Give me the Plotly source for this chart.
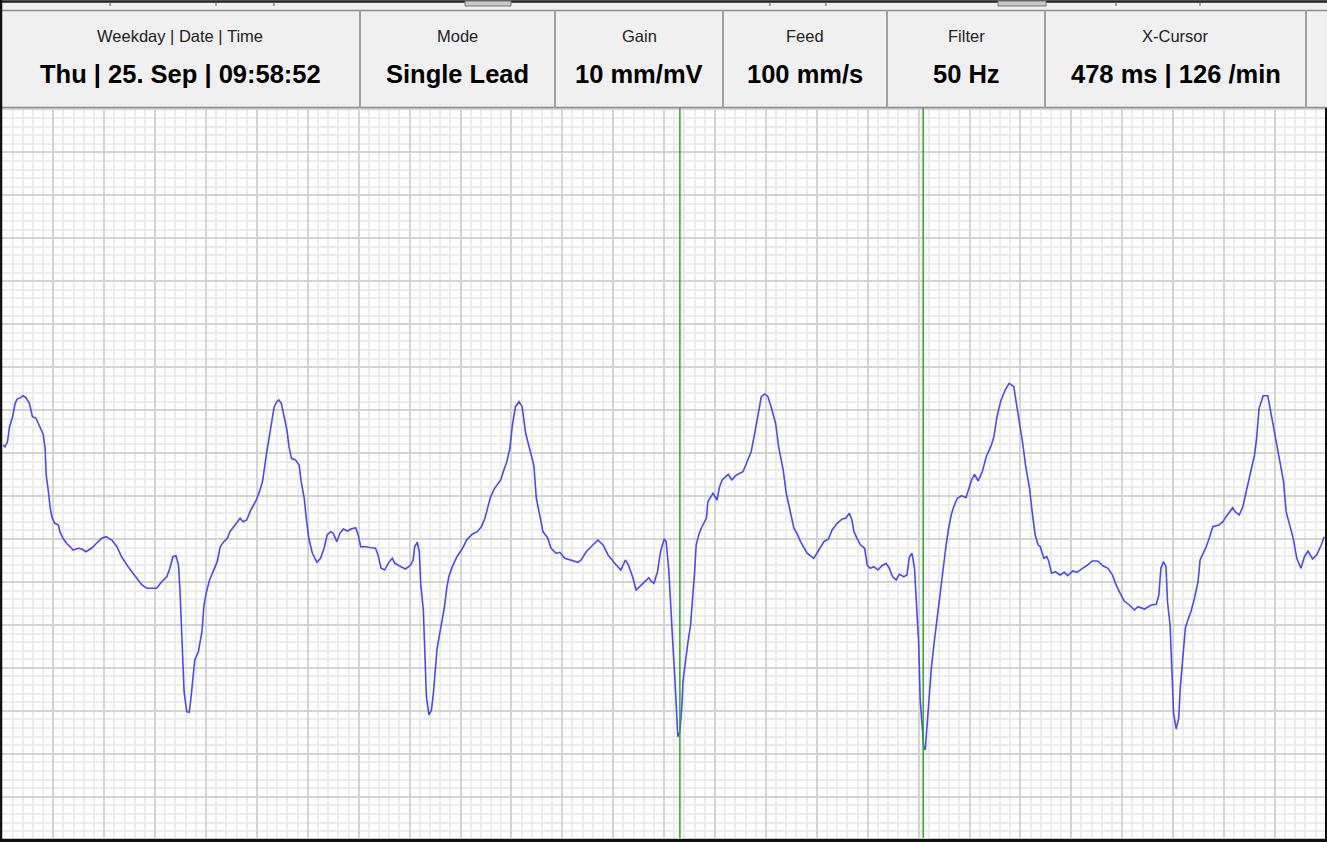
import plotly.graph_objects as go

# ECG samples (time in ms, amplitude in mV)
t_ms = [1, 5, 10, 14, 20, 25, 29, 36, 41, 46, 53, 59, 66, 73, 80, 84, 86, 90, 94, 98,
        103, 110, 113, 119, 126, 133, 139, 149, 156, 164, 175, 185, 195, 204, 215, 225, 234, 247, 261, 274,
        284, 303, 313, 323, 329, 335, 341, 346, 349, 352, 355, 357, 362, 367, 370, 374, 378, 385, 392, 396,
        401, 407, 414, 422, 428, 435, 442, 447, 457, 467, 473, 480, 488, 498, 505, 511, 519, 524, 528, 534,
        539, 543, 548, 553, 559, 563, 568, 576, 583, 587, 593, 597, 602, 609, 618, 625, 632, 638, 645, 650,
        657, 663, 670, 678, 685, 694, 699, 704, 714, 724, 733, 738, 744, 751, 758, 766, 771, 783, 792, 802,
        807, 810, 815, 819, 822, 827, 830, 833, 838, 843, 847, 851, 854, 861, 868, 873, 877, 884, 893, 904,
        912, 923, 933, 941, 948, 953, 959, 967, 979, 984, 991, 997, 1002, 1008, 1015, 1021, 1028, 1033, 1039, 1044,
        1049, 1056, 1062, 1071, 1078, 1088, 1095, 1105, 1118, 1131, 1137, 1147, 1160, 1170, 1180, 1190, 1203, 1215, 1224, 1230,
        1239, 1245, 1252, 1261, 1270, 1274, 1280, 1287, 1293, 1300, 1304, 1309, 1314, 1318, 1321, 1324, 1327, 1331, 1335, 1337,
        1342, 1347, 1352, 1357, 1360, 1363, 1368, 1373, 1383, 1386, 1393, 1396, 1404, 1409, 1414, 1426, 1433, 1442, 1455, 1462,
        1471, 1478, 1485, 1491, 1498, 1504, 1511, 1519, 1525, 1534, 1540, 1549, 1555, 1561, 1568, 1581, 1594, 1604, 1614, 1623,
        1630, 1640, 1650, 1657, 1664, 1669, 1673, 1679, 1686, 1694, 1699, 1705, 1712, 1720, 1728, 1736, 1742, 1749, 1756, 1762,
        1771, 1777, 1782, 1787, 1792, 1797, 1800, 1803, 1807, 1810, 1813, 1817, 1821, 1825, 1830, 1834, 1840, 1845, 1849, 1854,
        1859, 1864, 1869, 1876, 1885, 1893, 1899, 1904, 1910, 1917, 1925, 1933, 1943, 1948, 1954, 1961, 1970, 1978, 1987, 1993,
        2000, 2005, 2010, 2018, 2023, 2029, 2035, 2039, 2046, 2052, 2056, 2061, 2069, 2074, 2078, 2086, 2093, 2103, 2111, 2122,
        2132, 2141, 2152, 2162, 2172, 2181, 2188, 2196, 2204, 2214, 2224, 2231, 2244, 2257, 2267, 2272, 2276, 2281, 2286, 2289,
        2294, 2298, 2301, 2306, 2311, 2314, 2319, 2324, 2329, 2335, 2342, 2349, 2353, 2358, 2365, 2371, 2378, 2390, 2398, 2404,
        2417, 2422, 2430, 2437, 2443, 2451, 2460, 2464, 2469, 2477, 2486, 2490, 2497, 2504, 2510, 2517, 2522, 2528, 2536, 2543,
        2551, 2558, 2565, 2574, 2582, 2591, 2597]
mv = [1.094, 1.074, 1.132, 1.307, 1.423, 1.579, 1.629, 1.645, 1.668, 1.645, 1.579, 1.423, 1.405, 1.307, 1.219, 1.056, 0.745, 0.570, 0.357, 0.241,
      0.183, 0.163, 0.085, 0.008, -0.050, -0.090, -0.128, -0.108, -0.116, -0.148, -0.108, -0.050, 0.008, 0.027, -0.012, -0.090, -0.206, -0.322, -0.439, -0.535,
      -0.574, -0.574, -0.497, -0.439, -0.341, -0.206, -0.194, -0.303, -0.613, -1.059, -1.312, -1.777, -2.010, -2.017, -1.874, -1.641, -1.408, -1.312, -1.079, -0.768,
      -0.613, -0.477, -0.381, -0.264, -0.090, -0.031, 0.008, 0.085, 0.163, 0.241, 0.201, 0.221, 0.338, 0.442, 0.551, 0.667, 0.997, 1.191, 1.327, 1.540,
      1.598, 1.618, 1.579, 1.423, 1.269, 1.074, 0.939, 0.919, 0.861, 0.667, 0.474, 0.241, 0.008, -0.166, -0.271, -0.225, -0.108, 0.047, 0.085, 0.066,
      -0.031, 0.066, 0.116, 0.093, 0.116, 0.132, 0.047, -0.090, -0.090, -0.101, -0.108, -0.186, -0.341, -0.361, -0.283, -0.225, -0.283, -0.322, -0.349, -0.303,
      -0.244, -0.090, -0.038, -0.148, -0.535, -0.826, -1.350, -1.835, -2.048, -1.990, -1.777, -1.505, -1.272, -1.039, -0.807, -0.574, -0.439, -0.322, -0.206, -0.108,
      -0.012, 0.055, 0.085, 0.143, 0.241, 0.357, 0.492, 0.590, 0.687, 0.783, 0.900, 1.056, 1.327, 1.540, 1.598, 1.540, 1.230, 1.114, 0.978, 0.861,
      0.474, 0.279, 0.085, 0.015, -0.108, -0.166, -0.155, -0.225, -0.244, -0.271, -0.244, -0.148, -0.070, -0.012, -0.070, -0.186, -0.283, -0.361, -0.244, -0.303,
      -0.457, -0.594, -0.555, -0.497, -0.450, -0.489, -0.516, -0.381, -0.148, 0.000, -0.031, -0.341, -0.807, -1.312, -1.603, -2.048, -2.301, -2.243, -1.932, -1.661,
      -1.389, -1.195, -1.001, -0.652, -0.381, -0.070, 0.047, 0.125, 0.241, 0.434, 0.512, 0.532, 0.454, 0.609, 0.687, 0.753, 0.687, 0.745, 0.783, 0.881,
      1.016, 1.230, 1.463, 1.656, 1.688, 1.656, 1.521, 1.347, 1.074, 0.803, 0.532, 0.279, 0.125, 0.066, -0.031, -0.166, -0.225, -0.128, -0.031, 0.000,
      0.105, 0.183, 0.233, 0.241, 0.299, 0.221, 0.085, 0.008, -0.070, -0.108, -0.303, -0.341, -0.322, -0.361, -0.311, -0.283, -0.334, -0.439, -0.477, -0.411,
      -0.439, -0.419, -0.206, -0.166, -0.341, -0.885, -1.195, -1.854, -2.126, -2.417, -2.456, -2.126, -1.816, -1.505, -1.234, -1.039, -0.768, -0.497, -0.264, -0.070,
      0.125, 0.279, 0.376, 0.474, 0.504, 0.481, 0.590, 0.687, 0.753, 0.675, 0.783, 0.958, 1.094, 1.191, 1.423, 1.598, 1.734, 1.812, 1.773, 1.540,
      1.307, 1.094, 0.861, 0.590, 0.318, 0.047, -0.070, -0.090, -0.225, -0.206, -0.264, -0.399, -0.381, -0.399, -0.419, -0.388, -0.427, -0.372, -0.388, -0.341,
      -0.303, -0.256, -0.256, -0.311, -0.341, -0.419, -0.535, -0.632, -0.722, -0.768, -0.826, -0.788, -0.815, -0.768, -0.760, -0.652, -0.341, -0.264, -0.322, -0.730,
      -1.001, -1.583, -2.029, -2.211, -2.087, -1.738, -1.389, -1.039, -0.943, -0.846, -0.690, -0.497, -0.244, -0.186, -0.090, 0.008, 0.143, 0.163, 0.201, 0.260,
      0.364, 0.318, 0.279, 0.376, 0.551, 0.745, 0.978, 1.172, 1.521, 1.668, 1.668, 1.540, 1.327, 1.094, 0.881, 0.667, 0.318, 0.183, 0.008, -0.225,
      -0.341, -0.206, -0.140, -0.233, -0.186, -0.070, 0.027]

cursor_ms = [1331, 1809]

header_labels = ["Weekday | Date | Time", "Mode", "Gain", "Feed", "Filter", "X-Cursor"]
header_values = ["Thu | 25. Sep | 09:58:52", "Single Lead", "10 mm/mV", "100 mm/s", "50 Hz", "478 ms | 126 /min"]

W, H = 1327, 842
cell_edges = [0, 360, 555, 723, 887, 1045, 1306, 1327]

fig = go.Figure()
fig.add_trace(go.Scatter(x=t_ms, y=mv, mode="lines",
                         line=dict(color="rgb(72,72,255)", width=1.6),
                         hoverinfo="skip", showlegend=False))

for c in cursor_ms:
    fig.add_shape(type="line", xref="x", yref="y domain", x0=c, x1=c, y0=0, y1=1,
                  line=dict(color="rgb(34,170,34)", width=1.5), layer="above")

def px(xp):
    return xp / W

def py(yp):
    return 1 - yp / H

shapes = []
# top strip (scroll bar remnants)
shapes.append(dict(type="rect", xref="paper", yref="paper", x0=0, x1=1, y0=py(10), y1=1,
                   fillcolor="#f0f0f0", line=dict(width=0), layer="above"))
shapes.append(dict(type="line", xref="paper", yref="paper", x0=0, x1=1, y0=py(1.5), y1=py(1.5),
                   line=dict(color="#202020", width=2.5), layer="above"))
for tx in [110, 216, 274, 770, 826, 1116, 1200]:
    shapes.append(dict(type="line", xref="paper", yref="paper", x0=px(tx), x1=px(tx), y0=py(2), y1=py(6),
                       line=dict(color="#555555", width=1), layer="above"))
for a, b in [(465, 511), (998, 1046)]:
    shapes.append(dict(type="rect", xref="paper", yref="paper", x0=px(a), x1=px(b), y0=py(6), y1=py(1),
                       fillcolor="#c8c8c8", line=dict(color="#707070", width=1), layer="above"))
# header panel
shapes.append(dict(type="rect", xref="paper", yref="paper", x0=0, x1=1, y0=py(108), y1=py(10),
                   fillcolor="#f0f0f0", line=dict(width=0), layer="above"))
shapes.append(dict(type="line", xref="paper", yref="paper", x0=0, x1=1, y0=py(10.5), y1=py(10.5),
                   line=dict(color="#8c8c8c", width=1.5), layer="above"))
shapes.append(dict(type="line", xref="paper", yref="paper", x0=0, x1=1, y0=py(107.5), y1=py(107.5),
                   line=dict(color="#8c8c8c", width=1.5), layer="above"))
for e in cell_edges[1:-1]:
    shapes.append(dict(type="line", xref="paper", yref="paper", x0=px(e), x1=px(e), y0=py(108), y1=py(10),
                       line=dict(color="#a0a0a0", width=2), layer="above"))
# outer border
shapes.append(dict(type="line", xref="paper", yref="paper", x0=px(1), x1=px(1), y0=0, y1=1,
                   line=dict(color="#101010", width=2.5), layer="above"))
shapes.append(dict(type="line", xref="paper", yref="paper", x0=0, x1=1, y0=py(840.5), y1=py(840.5),
                   line=dict(color="#101010", width=3.5), layer="above"))
shapes.append(dict(type="line", xref="paper", yref="paper", x0=px(1326), x1=px(1326), y0=py(842), y1=py(108),
                   line=dict(color="#101010", width=2), layer="above"))
for s in shapes:
    fig.add_shape(**s)

annotations = []
for i, (lab, val) in enumerate(zip(header_labels, header_values)):
    cx = (cell_edges[i] + cell_edges[i + 1]) / 2
    annotations.append(dict(x=px(cx), y=py(36), xref="paper", yref="paper", text=lab, showarrow=False,
                            xanchor="center", yanchor="middle",
                            font=dict(family="Liberation Sans, Arial, sans-serif", size=16.5, color="#222222")))
    annotations.append(dict(x=px(cx), y=py(74), xref="paper", yref="paper", text="<b>" + val + "</b>",
                            showarrow=False, xanchor="center", yanchor="middle",
                            font=dict(family="Liberation Sans, Arial, sans-serif", size=25.5, color="#000000")))
fig.update_layout(annotations=annotations)

x_end = (1325 - 2.4) / 0.509
fig.update_layout(
    width=W, height=H, margin=dict(l=0, r=0, t=0, b=0),
    paper_bgcolor="white", plot_bgcolor="white",
    showlegend=False,
    xaxis=dict(domain=[2.4 / W, 1325 / W], range=[0, x_end], dtick=100, tick0=0,
               showgrid=True, gridcolor="#d4d4d4", gridwidth=2,
               minor=dict(dtick=20, showgrid=True, gridcolor="#ececec", gridwidth=1.5),
               showticklabels=False, ticks="", zeroline=False, showline=False, fixedrange=True),
    yaxis=dict(domain=[1 - 838 / H, 1 - 108 / H], range=[-(838 - 539) / 85.92, (539 - 108) / 85.92],
               dtick=0.5, tick0=0,
               showgrid=True, gridcolor="#d4d4d4", gridwidth=2,
               minor=dict(dtick=0.1, showgrid=True, gridcolor="#ececec", gridwidth=1.5),
               showticklabels=False, ticks="", zeroline=False, showline=False, fixedrange=True),
)

fig.write_html("out.html", config={"displayModeBar": False},
               post_script="document.body.style.margin='0';document.body.style.overflow='hidden';")
